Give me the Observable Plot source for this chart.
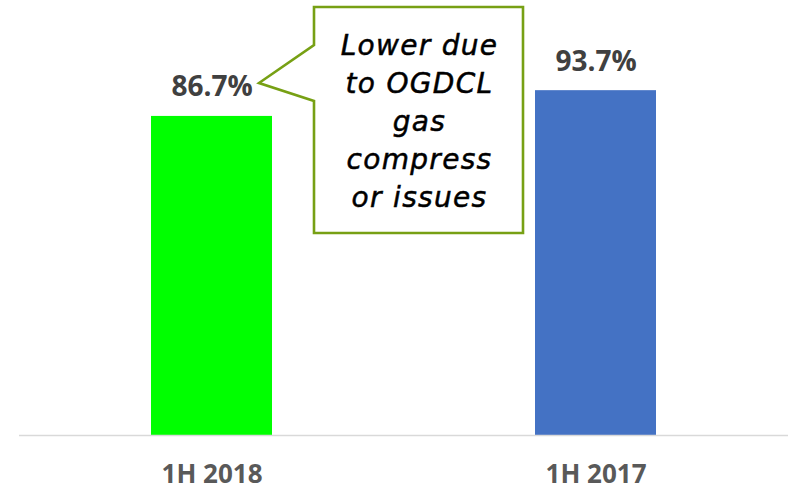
<!DOCTYPE html>
<html>
<head>
<meta charset="utf-8">
<script src="https://cdn.jsdelivr.net/npm/d3@7"></script>
<script src="https://cdn.jsdelivr.net/npm/@observablehq/plot@0.6"></script>
<style>
  html, body { margin: 0; padding: 0; background: #fff; }
  #chart svg { display: block; }
</style>
</head>
<body>
<div id="chart"></div>
<script>
const categories = ["1H 2018", "1H 2017"];
const values = [86.7, 93.7];
const valueLabels = ["86.7%", "93.7%"];
const barColors = ["#00ff00", "#4472c4"];
const calloutLines = ["Lower due", "to OGDCL", "gas", "compress", "or issues"];

const data = categories.map((c, i) => ({category: c, value: values[i], label: valueLabels[i], color: barColors[i]}));

// Callout annotation (speech bubble pointing at the 1H 2018 label)
function callout(index, scales, vals, dims) {
  const bx0 = 314, bx1 = 523, by0 = 7, by1 = 233;
  const tipX = 259, tipY = 83, j0 = 45, j1 = 101;
  const g = d3.create("svg:g");
  const path = `M${bx0},${by0}H${bx1}V${by1}H${bx0}V${j1}L${tipX},${tipY}L${bx0},${j0}Z`;
  g.append("path")
    .attr("d", path)
    .attr("fill", "#ffffff")
    .attr("stroke", "#77a014")
    .attr("stroke-width", 2.6)
    .attr("stroke-linejoin", "miter");
  const cx = (bx0 + bx1) / 2 + 1;
  g.selectAll("text.cl")
    .data(calloutLines)
    .join("text")
    .attr("x", cx)
    .attr("y", (d, i) => 55 + i * 38)
    .attr("text-anchor", "middle")
    .attr("font-family", "DejaVu Sans")
    .attr("font-style", "italic")
    .attr("font-size", 28)
    .attr("letter-spacing", 1.3)
    .attr("fill", "#000")
    .attr("stroke", "#000")
    .attr("stroke-width", 0.5)
    .text(d => d);
  return g.node();
}

const chart = Plot.plot({
  width: 788,
  height: 490,
  marginTop: 0,
  marginBottom: 55,
  marginLeft: 19,
  marginRight: 0,
  style: {fontFamily: "'Open Sans', sans-serif", background: "#fff"},
  x: {domain: categories, paddingInner: 0.685, paddingOuter: 0.3425, label: null},
  y: {domain: [0, 118.2], axis: null},
  marks: [
    Plot.barY(data, {x: "category", y: "value", fill: "color"}),
    Plot.ruleY([0], {stroke: "#d9d9d9", strokeWidth: 1.5}),
    Plot.text(data, {x: "category", y: "value", text: "label", lineAnchor: "bottom", dy: -20,
      fontSize: 28, fontWeight: "bold", fill: "#404040"}),
    Plot.axisX({tickSize: 0, tickPadding: 29, fontSize: 26, fontWeight: "bold", color: "#595959", label: null}),
    callout
  ]
});
document.getElementById("chart").append(chart);
</script>
</body>
</html>
